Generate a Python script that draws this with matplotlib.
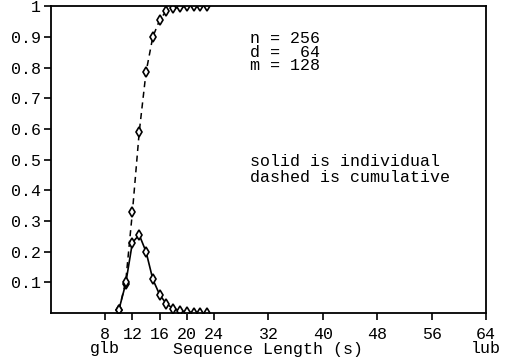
import numpy as np
import matplotlib.pyplot as plt

plt.rcParams['font.family'] = ['Liberation Mono', 'DejaVu Sans Mono']

# sequence lengths and probabilities
lengths = [10, 11, 12, 13, 14, 15, 16, 17, 18, 19, 20, 21, 22, 23]
individual = [0.01, 0.095, 0.23, 0.255, 0.20, 0.11, 0.06, 0.03, 0.015,
              0.007, 0.004, 0.002, 0.001, 0.0005]
cumulative = [0.01, 0.10, 0.33, 0.59, 0.785, 0.90, 0.955, 0.985, 0.993,
              0.997, 0.999, 1.0, 1.0, 1.0]

xticks = [8, 12, 16, 20, 24, 32, 40, 48, 56, 64]
xticklabels = ['8\nglb', '12', '16', '20', '24', '32', '40', '48', '56', '64\nlub']
yticks = [0.1, 0.2, 0.3, 0.4, 0.5, 0.6, 0.7, 0.8, 0.9, 1]
yticklabels = ['0.1', '0.2', '0.3', '0.4', '0.5', '0.6', '0.7', '0.8', '0.9', '1']

fig = plt.figure(figsize=(5.08, 3.62), dpi=100)
ax = fig.add_axes([0.100, 0.135, 0.857, 0.848])

ax.plot(lengths, individual, color='black', linestyle='-', linewidth=1.2,
        marker='d', markersize=5.5, markerfacecolor='white', markeredgecolor='black',
        markeredgewidth=1.2)
ax.plot(lengths, cumulative, color='black', linestyle=(0, (4, 3)), linewidth=1.1,
        marker='d', markersize=5.5, markerfacecolor='white', markeredgecolor='black',
        markeredgewidth=1.2)

ax.set_xlim(0, 64)
ax.set_ylim(0, 1)
ax.set_xticks(xticks)
ax.set_xticklabels(xticklabels, fontsize=12, linespacing=0.95)
ax.set_yticks(yticks)
ax.set_yticklabels(yticklabels, fontsize=12)
ax.tick_params(axis='y', direction='out', length=5, width=1.2, pad=2)
ax.tick_params(axis='x', direction='out', length=5, width=1.2, pad=5)

for s in ax.spines.values():
    s.set_linewidth(1.3)

ax.set_xlabel('Sequence Length (s)', fontsize=12)
ax.xaxis.set_label_coords(0.5, -0.095)

ax.text(29.3, 0.92, 'n = 256\nd =  64\nm = 128', fontsize=12, va='top',
        linespacing=0.9)
ax.text(29.3, 0.52, 'solid is individual\ndashed is cumulative', fontsize=12,
        va='top', linespacing=1.1)

fig.savefig('out.png', dpi=100)
